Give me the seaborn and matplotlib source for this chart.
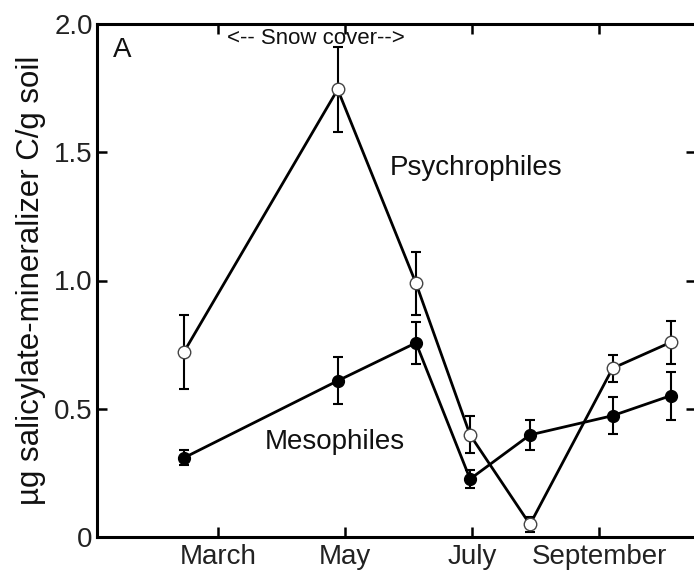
import matplotlib
matplotlib.use("Agg")
import matplotlib.pyplot as plt
import seaborn as sns
import pandas as pd

# Sampling dates (month number, fractional) and abundances
sample_month = [2.465, 4.885, 6.118, 6.97, 7.913, 9.215, 10.13]
psychro_mean = [0.722, 1.745, 0.989, 0.398, 0.049, 0.658, 0.759]
psychro_err = [0.145, 0.167, 0.123, 0.072, 0.030, 0.053, 0.085]
meso_mean = [0.309, 0.609, 0.757, 0.226, 0.398, 0.473, 0.551]
meso_err = [0.030, 0.091, 0.083, 0.035, 0.058, 0.072, 0.094]

month_ticks = [3, 5, 7, 9]
month_labels = ["March", "May", "July", "September"]
y_ticks = [0, 0.5, 1.0, 1.5, 2.0]
y_labels = ["0", "0.5", "1.0", "1.5", "2.0"]

sns.set_theme(style="white")
plt.rcParams["font.family"] = ["Liberation Sans", "DejaVu Sans"]

df = pd.DataFrame({
    "month": sample_month * 2,
    "value": psychro_mean + meso_mean,
    "group": ["Psychrophiles"] * len(sample_month) + ["Mesophiles"] * len(sample_month),
})

fig = plt.figure(figsize=(6.94, 5.70), dpi=100)
ax = fig.add_axes([97 / 694, 1 - 537 / 570, (696 - 97) / 694, (537 - 24) / 570])

# error bars first, then lines and markers on top
ax.errorbar(sample_month, psychro_mean, yerr=psychro_err, fmt="none",
            ecolor="black", elinewidth=1.5, capsize=3.5, capthick=1.5, zorder=2)
ax.errorbar(sample_month, meso_mean, yerr=meso_err, fmt="none",
            ecolor="black", elinewidth=1.5, capsize=3.5, capthick=1.5, zorder=2)

sns.lineplot(data=df[df.group == "Psychrophiles"], x="month", y="value",
             color="black", linewidth=2.0, marker="o", markersize=9,
             markerfacecolor="white", markeredgecolor="#444444",
             markeredgewidth=1.0, ax=ax, zorder=3, sort=False)
sns.lineplot(data=df[df.group == "Mesophiles"], x="month", y="value",
             color="black", linewidth=2.0, marker="o", markersize=8.5,
             markerfacecolor="black", markeredgecolor="black",
             markeredgewidth=1.0, ax=ax, zorder=4, sort=False)

ax.set_xlim(1.094, 10.528)
ax.set_ylim(0, 2.0)
ax.set_xticks(month_ticks)
ax.set_xticklabels(month_labels)
ax.set_yticks(y_ticks)
ax.set_yticklabels(y_labels)
ax.set_xlabel("")
ax.set_ylabel("µg salicylate-mineralizer C/g soil", fontsize=22.5, labelpad=6,
              color="#111111")

for side in ["left", "right", "top", "bottom"]:
    ax.spines[side].set_visible(True)
    ax.spines[side].set_color("black")
    ax.spines[side].set_linewidth(2.2)

ax.tick_params(axis="both", which="major", direction="in", length=7, width=1.8,
               color="black", labelsize=20, labelcolor="#222222",
               top=True, right=True, bottom=True, left=True, pad=3)
ax.tick_params(axis="x", pad=5)

ax.text(0.026, 0.975, "A", transform=ax.transAxes, fontsize=20,
        ha="left", va="top", color="#111111")
ax.text(3.0 + (316 - 218) / 63.5, 1.945, "<-- Snow cover-->", fontsize=16,
        ha="center", va="center", color="#111111")
ax.text(3.0 + (390 - 218) / 63.5, 1.44, "Psychrophiles", fontsize=20,
        ha="left", va="center", color="#111111")
ax.text(3.0 + (265 - 218) / 63.5, 0.37, "Mesophiles", fontsize=20,
        ha="left", va="center", color="#111111")

fig.savefig("out.png", dpi=100)
